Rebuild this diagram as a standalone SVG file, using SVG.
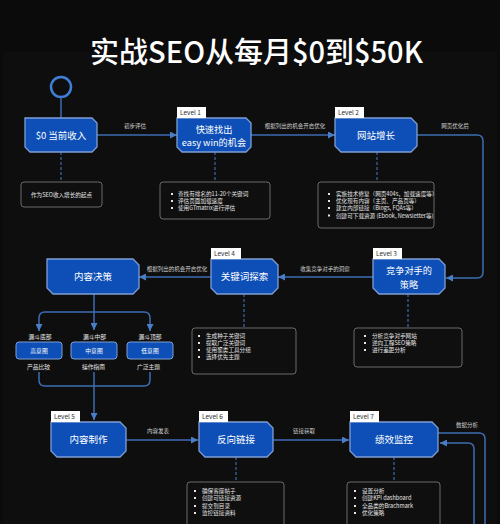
<svg xmlns="http://www.w3.org/2000/svg" width="500" height="524" viewBox="0 0 500 524">
<defs>
<style>
.n{fill:#0d4fb6;stroke:#7f9fd4;stroke-width:1.3}
.t{font-family:"Noto Sans CJK SC","Noto Sans",sans-serif}
.nt{font-size:9.5px;fill:#fff;text-anchor:middle}
.nt2{font-size:9.2px}
.lvr{fill:#fff}
.lvt{font-size:6.5px;fill:#333}
.el{font-size:5.5px;fill:#cfcfcf;text-anchor:middle}
.c{stroke:#3c6db3;stroke-width:1.5;fill:none}
.d{stroke:#34588c;stroke-width:1.5;fill:none;stroke-dasharray:3 2}
.db{fill:#0f0f0f;stroke:#6a6a6a;stroke-width:1}
.dt{font-size:5.6px;fill:#e6e6e6}
.dc{text-anchor:middle}
.bl{fill:#e6e6e6}
.fb{fill:#0d4fb6;stroke:#7f9fd4;stroke-width:1}
.ft{font-size:5.8px;fill:#fff;text-anchor:middle}
</style>
<marker id="ah" markerUnits="userSpaceOnUse" markerWidth="7" markerHeight="7" refX="7" refY="3.5" orient="auto">
<path d="M0,0 L7,3.5 L0,7 Z" fill="#4a7dc8"/>
</marker>
</defs>
<rect width="500" height="524" fill="#0b0b0b"/>
<rect x="3" y="52" width="494" height="472" fill="#0e0e0e"/>
<text class="t" x="256.5" y="63" font-size="29" font-weight="500" fill="#fff" text-anchor="middle">实战SEO从每月$0到$50K</text>

<circle cx="61" cy="87" r="10" fill="none" stroke="#3f7fd8" stroke-width="2.5"/>

<g id="connectors">
<path class="c" d="M61,97 V118"/>
<path class="c" d="M97,135 H177" marker-end="url(#ah)"/>
<path class="c" d="M251,135 H335" marker-end="url(#ah)"/>
<path class="c" d="M417,135 H477 Q483,135 483,141 V272 Q483,278 477,278 H446" marker-end="url(#ah)"/>
<path class="c" d="M373,277 H278" marker-end="url(#ah)"/>
<path class="c" d="M211,277 H139" marker-end="url(#ah)"/>
<path class="c" d="M94,294 V330" marker-end="url(#ah)"/>
<path class="c" d="M94,312 H45 Q39,312 39,318 V331" marker-end="url(#ah)"/>
<path class="c" d="M94,312 H144 Q150,312 150,318 V331" marker-end="url(#ah)"/>
<path class="c" d="M39,372 V380 Q39,386 45,386 H144 Q150,386 150,380 V372"/>
<path class="c" d="M94,372 V420" marker-end="url(#ah)"/>
<path class="c" d="M126,440 H198" marker-end="url(#ah)"/>
<path class="c" d="M273,440 H349" marker-end="url(#ah)"/>
<path class="c" d="M438,433 H479 Q485,433 485,439 V530"/>
<path class="c" d="M474,530 V449 Q474,443 468,443 H440" marker-end="url(#ah)"/>
<path class="d" d="M61,152 V182"/>
<path class="d" d="M215,152 V182"/>
<path class="d" d="M377,152 V182"/>
<path class="d" d="M408,294 V328"/>
<path class="d" d="M244,294 V328"/>
<path class="d" d="M236,457 V482"/>
<path class="d" d="M394,457 V482"/>
<g class="t el">
<text x="135" y="127.5">初步评估</text>
<text x="295" y="127.5">根据列出的机会开启优化</text>
<text x="455" y="127.5">网页优化后</text>
<text x="325" y="271">收集竞争对手的洞察</text>
<text x="177" y="271">根据列出的机会开启优化</text>
<text x="158" y="433">内容发表</text>
<text x="304" y="433">链接获取</text>
<text x="467" y="427">数据分析</text>
</g>
</g>

<g id="n0">
<path class="n" d="M25,118 H92 L97,123 V147 L92,152 H30 L25,147 Z"/>
<text class="t nt" x="61" y="138.5">$0 当前收入</text>
</g>
<g id="d0">
<rect class="db" x="21" y="182" width="81" height="25" rx="3"/>
<text class="t dt dc" x="61.5" y="196.5">作为SEO收入增长的起点</text>
</g>

<g id="n1">
<path class="n" d="M177,118 H246 L251,123 V147 L246,152 H182 L177,147 Z"/>
<rect class="lvr" x="177" y="107" width="29" height="11"/>
<text class="t lvt" x="180" y="115">Level 1</text>
<text class="t nt nt2" x="214" y="132.5">快速找出</text>
<text class="t nt nt2" x="214" y="145.5">easy win的机会</text>
</g>
<g id="d1">
<rect class="db" x="160" y="182" width="110" height="37" rx="3"/>
<rect class="bl" x="171" y="193" width="2" height="2"/>
<rect class="bl" x="171" y="200" width="2" height="2"/>
<rect class="bl" x="171" y="207" width="2" height="2"/>
<g class="t dt">
<text x="178" y="196">查找有排名的11-20个关键词</text>
<text x="178" y="203">评估页面加载速度</text>
<text x="178" y="210">使用GTmatrix进行评估</text>
</g>
</g>

<g id="n2">
<path class="n" d="M335,118 H411 L417,124 V146 L411,152 H341 L335,146 Z"/>
<rect class="lvr" x="335" y="107" width="29" height="11"/>
<text class="t lvt" x="338" y="115">Level 2</text>
<text class="t nt" x="376" y="138.5">网站增长</text>
</g>
<g id="d2">
<rect class="db" x="318" y="182" width="116" height="46" rx="3"/>
<rect class="bl" x="328" y="193" width="2" height="2"/>
<rect class="bl" x="328" y="200" width="2" height="2"/>
<rect class="bl" x="328" y="207" width="2" height="2"/>
<rect class="bl" x="328" y="214.5" width="2" height="2"/>
<g class="t dt">
<text x="336" y="196">实施技术修复（网页404s，加载速度等）</text>
<text x="336" y="203">优化现有内容（主页、产品页等）</text>
<text x="336" y="210">建立内部链接（Blogs, FQAs等）</text>
<text x="336" y="217.5">创建可下载资源 (Ebook, Newsletter等)</text>
</g>
</g>

<g id="n3">
<path class="n" d="M373,259 H439 L445,265 V288 L439,294 H379 L373,288 Z"/>
<rect class="lvr" x="373" y="248" width="29" height="11"/>
<text class="t lvt" x="376" y="256">Level 3</text>
<text class="t nt nt2" x="409" y="274">竞争对手的</text>
<text class="t nt nt2" x="409" y="287.5">策略</text>
</g>
<g id="d3">
<rect class="db" x="354" y="328" width="108" height="39" rx="3"/>
<rect class="bl" x="364" y="335" width="2" height="2"/>
<rect class="bl" x="364" y="342" width="2" height="2"/>
<rect class="bl" x="364" y="349" width="2" height="2"/>
<g class="t dt">
<text x="372" y="338">分析竞争对手网站</text>
<text x="372" y="345">逆向工程SEO策略</text>
<text x="372" y="352">进行差距分析</text>
</g>
</g>

<g id="n4">
<path class="n" d="M211,259 H272 L278,265 V288 L272,294 H217 L211,288 Z"/>
<rect class="lvr" x="211" y="248" width="30" height="11"/>
<text class="t lvt" x="214" y="256">Level 4</text>
<text class="t nt" x="244.5" y="280">关键词探索</text>
</g>
<g id="d4">
<rect class="db" x="192" y="328" width="104" height="46" rx="3"/>
<rect class="bl" x="198" y="335" width="2" height="2"/>
<rect class="bl" x="198" y="342" width="2" height="2"/>
<rect class="bl" x="198" y="349" width="2" height="2"/>
<rect class="bl" x="198" y="356" width="2" height="2"/>
<g class="t dt">
<text x="206" y="338">生成种子关键词</text>
<text x="206" y="345">提取广泛关键词</text>
<text x="206" y="352">使用聚类工具分组</text>
<text x="206" y="359">选择优先主题</text>
</g>
</g>

<g id="n5">
<path class="n" d="M47,259 H133 L139,265 V288 L133,294 H53 L47,288 Z"/>
<text class="t nt" x="93" y="280">内容决策</text>
</g>

<g id="funnel">
<g class="t el" style="font-size:5.8px;fill:#e6e6e6">
<text x="40" y="339">漏斗底部</text>
<text x="94.5" y="339">漏斗中部</text>
<text x="150" y="339">漏斗顶部</text>
<text x="38.5" y="369">产品比较</text>
<text x="93.5" y="369">操作指南</text>
<text x="148.5" y="369">广泛主题</text>
</g>
</g>
<g id="f1">
<rect class="fb" x="16" y="342" width="46" height="17" rx="3"/>
<text class="t ft" x="39" y="352.5">高意图</text>
</g>
<g id="f2">
<rect class="fb" x="71" y="342" width="46" height="17" rx="3"/>
<text class="t ft" x="94" y="352.5">中意图</text>
</g>
<g id="f3">
<rect class="fb" x="127" y="342" width="46" height="17" rx="3"/>
<text class="t ft" x="150" y="352.5">低意图</text>
</g>

<g id="n6">
<path class="n" d="M51,422 H120 L126,428 V451 L120,457 H57 L51,451 Z"/>
<rect class="lvr" x="51" y="411" width="29" height="11"/>
<text class="t lvt" x="54" y="419">Level 5</text>
<text class="t nt" x="88.5" y="443">内容制作</text>
</g>

<g id="n7">
<path class="n" d="M199,422 H267 L273,428 V451 L267,457 H205 L199,451 Z"/>
<rect class="lvr" x="199" y="411" width="29" height="11"/>
<text class="t lvt" x="202" y="419">Level 6</text>
<text class="t nt" x="236" y="443">反向链接</text>
</g>
<g id="d5">
<rect class="db" x="187" y="482" width="97" height="50" rx="3"/>
<rect class="bl" x="194" y="490" width="2" height="2"/>
<rect class="bl" x="194" y="497" width="2" height="2"/>
<rect class="bl" x="194" y="505" width="2" height="2"/>
<rect class="bl" x="194" y="512" width="2" height="2"/>
<g class="t dt">
<text x="202" y="493">确保客座帖子</text>
<text x="202" y="500">创建可链接资源</text>
<text x="202" y="508">提交到目录</text>
<text x="202" y="515">监控链接资料</text>
</g>
</g>

<g id="n8">
<path class="n" d="M350,422 H432 L438,428 V451 L432,457 H356 L350,451 Z"/>
<rect class="lvr" x="350" y="411" width="29" height="11"/>
<text class="t lvt" x="353" y="419">Level 7</text>
<text class="t nt" x="394" y="443">绩效监控</text>
</g>
<g id="d6">
<rect class="db" x="347" y="482" width="93" height="50" rx="3"/>
<rect class="bl" x="354" y="490" width="2" height="2"/>
<rect class="bl" x="354" y="497" width="2" height="2"/>
<rect class="bl" x="354" y="505" width="2" height="2"/>
<rect class="bl" x="354" y="512" width="2" height="2"/>
<g class="t dt">
<text x="362" y="493">设置分析</text>
<text x="362" y="500">创建KPI dashboard</text>
<text x="362" y="508">全品类的Brachmark</text>
<text x="362" y="515">优化策略</text>
</g>
</g>
</svg>
